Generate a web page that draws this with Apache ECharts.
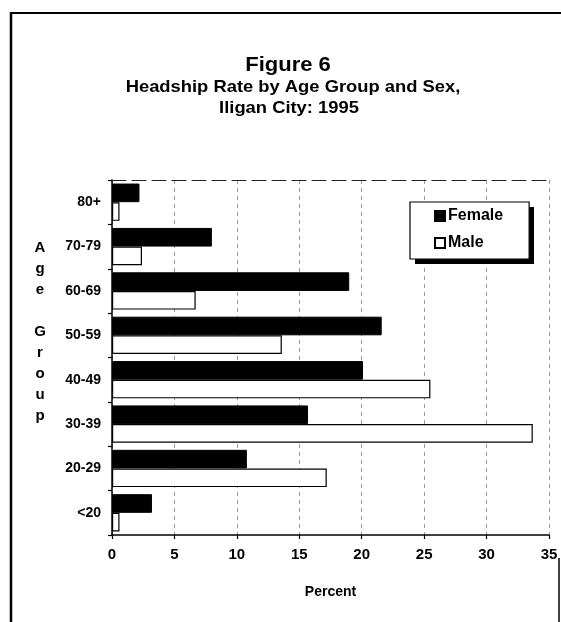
<!DOCTYPE html>
<html>
<head>
<meta charset="utf-8">
<script src="https://cdn.jsdelivr.net/npm/echarts@6/dist/echarts.min.js"></script>
<style>
html,body{margin:0;padding:0;background:#fff;}
#chart{width:561px;height:622px;}
</style>
</head>
<body>
<div id="chart"></div>
<script>
// Data (bottom to top on the chart)
var categories = ['<20', '20-29', '30-39', '40-49', '50-59', '60-69', '70-79', '80+'];
var femaleValues = [3.2, 10.8, 15.7, 20.1, 21.6, 19.0, 8.0, 2.2];
var maleValues = [0.6, 17.2, 33.7, 25.5, 13.6, 6.7, 2.4, 0.6];
var xTicks = [0, 5, 10, 15, 20, 25, 30, 35];

var FONT = '"Liberation Sans", Arial, sans-serif';
var chart = echarts.init(document.getElementById('chart'), null, {renderer: 'canvas'});

var option = {
  backgroundColor: '#ffffff',
  animation: false,
  textStyle: {fontFamily: FONT},
  grid: {left: 112, right: 12, top: 180, bottom: 87, containLabel: false},
  legend: {
    orient: 'vertical',
    left: 410,
    top: 202,
    z: 10,
    data: ['Female', 'Male'],
    itemWidth: 10,
    itemHeight: 10,
    itemGap: 11,
    padding: [6, 26, 8, 24],
    backgroundColor: '#ffffff',
    borderColor: '#000',
    borderWidth: 1.2,
    icon: 'rect',
    textStyle: {fontFamily: FONT, fontWeight: 'bold', fontSize: 16, color: '#000', padding: [0, 0, 0, -2]}
  },
  xAxis: [{
    type: 'value',
    min: xTicks[0],
    max: xTicks[xTicks.length - 1],
    interval: 5,
    name: 'Percent',
    nameLocation: 'middle',
    nameGap: 50,
    nameTextStyle: {fontFamily: FONT, fontWeight: 'bold', fontSize: 14, color: '#000'},
    axisLine: {show: true, lineStyle: {color: '#000', width: 1.5}},
    axisTick: {show: true, length: 4, lineStyle: {color: '#000', width: 1.2}},
    axisLabel: {fontFamily: FONT, fontWeight: 'bold', fontSize: 15, color: '#000', margin: 12},
    splitLine: {show: true, lineStyle: {color: '#999', width: 1, type: [4, 4]}}
  }, {
    type: 'value',
    position: 'top',
    min: xTicks[0],
    max: xTicks[xTicks.length - 1],
    interval: 5,
    axisLine: {show: true, lineStyle: {color: '#222', width: 1.2, type: [14, 6]}},
    axisTick: {show: false},
    axisLabel: {show: false},
    splitLine: {show: false}
  }],
  yAxis: {
    type: 'category',
    data: categories,
    axisLine: {show: true, lineStyle: {color: '#000', width: 1.5}},
    axisTick: {show: true, length: 4, lineStyle: {color: '#000', width: 1.2}},
    axisLabel: {fontFamily: FONT, fontWeight: 'bold', fontSize: 14, color: '#000', margin: 11},
    splitLine: {show: false}
  },
  series: [{
    name: 'Female',
    type: 'bar',
    data: femaleValues,
    barGap: '0%',
    barCategoryGap: '16%',
    itemStyle: {color: '#000', borderColor: '#000', borderWidth: 1}
  }, {
    name: 'Male',
    type: 'bar',
    data: maleValues,
    barGap: '0%',
    barCategoryGap: '16%',
    itemStyle: {color: '#fff', borderColor: '#000', borderWidth: 1.2}
  }],
  graphic: [
    {type: 'text', x: 288, y: 65, scaleX: 1.1, style: {text: 'Figure 6', font: 'bold 20px ' + FONT, fill: '#000', textAlign: 'center', textVerticalAlign: 'middle'}},
    {type: 'text', x: 293, y: 87, scaleX: 1.08, style: {text: 'Headship Rate by Age Group and Sex,', font: 'bold 17px ' + FONT, fill: '#000', textAlign: 'center', textVerticalAlign: 'middle'}},
    {type: 'text', x: 289, y: 108, scaleX: 1.08, style: {text: 'Iligan City: 1995', font: 'bold 17px ' + FONT, fill: '#000', textAlign: 'center', textVerticalAlign: 'middle'}},
    {type: 'text', x: 40, y: 332, style: {text: 'A\ng\ne\n\nG\nr\no\nu\np', font: 'bold 15px ' + FONT, lineHeight: 21, fill: '#000', textAlign: 'center', textVerticalAlign: 'middle'}},
    {type: 'rect', z: 5, shape: {x: 415, y: 207, width: 119, height: 57}, style: {fill: '#000'}},
    {type: 'line', shape: {x1: 10, y1: 13, x2: 561, y2: 13}, style: {stroke: '#000', lineWidth: 2}},
    {type: 'line', shape: {x1: 11, y1: 12, x2: 11, y2: 622}, style: {stroke: '#000', lineWidth: 2.5}},
    {type: 'line', shape: {x1: 559, y1: 558, x2: 559, y2: 622}, style: {stroke: '#000', lineWidth: 1.5}}
  ]
};
chart.setOption(option);
</script>
</body>
</html>
